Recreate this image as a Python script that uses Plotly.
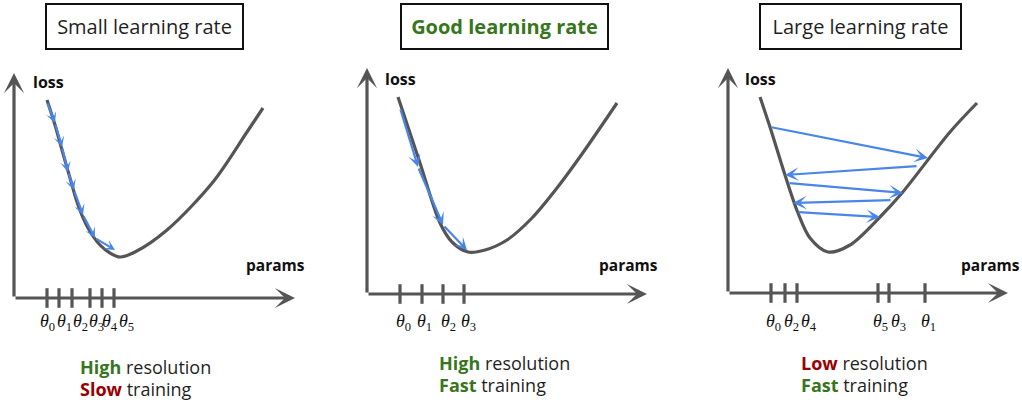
import plotly.graph_objects as go

# ---------------- data (panel-local units: params along x, loss along y) ----------------
titles = ["Small learning rate", "Good learning rate", "Large learning rate"]
title_bold = [False, True, False]

# loss curve control points per panel
curve1_x = [33, 41, 48, 56, 64, 74, 86, 96, 106, 121, 153, 199, 233, 249]
curve1_y = [198, 173, 148, 120, 93, 70, 53, 45, 41, 46, 68, 116, 166, 190]
curve2_x = [31, 53, 73, 85, 101, 118, 140, 165, 190, 215, 250]
curve2_y = [197, 131, 71, 52, 42, 44, 54, 76, 106, 140, 191]
curve3_x = [32, 42, 57, 70, 82, 100, 122, 152, 174, 222, 249]
curve3_y = [196, 166, 118, 80, 55, 41, 48, 76, 100, 161, 190]

# gradient-descent steps (successive points, arrows go from one to the next)
steps1_x = [33, 41, 48, 54, 60, 69, 81, 101]
steps1_y = [196, 175, 151, 126, 108, 83, 60, 48]
steps2_x = [33, 51, 76, 100]
steps2_y = [186, 127, 69, 44]
# large learning rate: separate (tail, head) pairs
steps3_tail_x = [42, 190, 60, 164, 69]
steps3_tail_y = [166, 127, 110, 93, 81]
steps3_head_x = [200, 57, 175, 65, 152]
steps3_head_y = [135, 118, 100, 90, 76]

# theta ticks along the params axis
ticks1 = [33, 45, 58, 76, 88, 100]
ticks2 = [33, 55, 76, 97]
ticks3 = [43, 57, 69, 150, 161, 197]
tick_labels1 = ["0", "1", "2", "3", "4", "5"]
tick_labels2 = ["0", "1", "2", "3"]
tick_labels3 = ["0", "2", "4", "5", "3", "1"]

# verdict texts
verdict_words = [("High", "resolution", "Slow", "training"),
                 ("High", "resolution", "Fast", "training"),
                 ("Low", "resolution", "Fast", "training")]
verdict_good = [(True, False), (True, True), (False, True)]

# ---------------- styles / layout geometry ----------------
W, H = 1022, 402
GRAY = "#555555"
BLUE = "#4a86e8"
GREEN = "#38761d"
RED = "#990000"
TXT = "#1f1f1f"
FONT = "Open Sans"

panels = [  # pixel bounds and origin of each small diagram
    dict(x0=0, x1=340, ox=14, oy=298, ytip=225, xtip=281,
         title_box=(45, 3, 244, 50), verdict_xy=(78, 367),
         loss_xy=(17, 216), params_xy=(230, 33), label_dy=-24,
         label_shift=[-3, 2, 5, 3, 5, 9], head=0.8),
    dict(x0=340, x1=680, ox=367, oy=294, ytip=226, xtip=280,
         title_box=(400, 3, 609, 50), verdict_xy=(437, 363),
         loss_xy=(16, 215), params_xy=(230, 29), label_dy=-28,
         label_shift=[0, -1, 2, 1], head=0.95),
    dict(x0=680, x1=1022, ox=728, oy=293, ytip=225, xtip=280,
         title_box=(759, 3, 962, 50), verdict_xy=(799, 363),
         loss_xy=(15, 214), params_xy=(231, 28), label_dy=-29,
         label_shift=[-1, 3, 9, -1, 6, 0], head=1.05),
]

curves = [(curve1_x, curve1_y), (curve2_x, curve2_y), (curve3_x, curve3_y)]
ticks = [ticks1, ticks2, ticks3]
tick_labels = [tick_labels1, tick_labels2, tick_labels3]

fig = go.Figure()
annotations = []
layout_axes = {}

for i, p in enumerate(panels):
    k = "" if i == 0 else str(i + 1)
    xa, ya = "x" + k, "y" + k
    layout_axes["xaxis" + k] = dict(domain=[p["x0"] / W, p["x1"] / W],
                                    range=[p["x0"] - p["ox"], p["x1"] - p["ox"]],
                                    visible=False, fixedrange=True, anchor=ya)
    layout_axes["yaxis" + k] = dict(domain=[0, 1], range=[p["oy"] - H, p["oy"]],
                                    visible=False, fixedrange=True, anchor=xa)

    # loss curve
    cx, cy = curves[i]
    fig.add_trace(go.Scatter(x=cx, y=cy, mode="lines", xaxis=xa, yaxis=ya,
                             line=dict(color=GRAY, width=3.2, shape="spline", smoothing=0.9),
                             hoverinfo="skip"))

    # theta ticks
    fig.add_trace(go.Scatter(x=ticks[i], y=[0] * len(ticks[i]), mode="markers",
                             xaxis=xa, yaxis=ya, hoverinfo="skip",
                             marker=dict(symbol="line-ns", size=14,
                                         line=dict(color=GRAY, width=3.2))))

    # coordinate axes with arrow heads
    for (hx, hy) in [(0, p["ytip"]), (p["xtip"], 0)]:
        annotations.append(dict(x=hx, y=hy, ax=0, ay=0, xref=xa, yref=ya,
                                axref=xa, ayref=ya, showarrow=True, text="",
                                arrowhead=3, arrowsize=1.05, arrowwidth=3.2,
                                arrowcolor=GRAY, standoff=0, startstandoff=0))

    # axis names
    annotations.append(dict(x=p["loss_xy"][0], y=p["loss_xy"][1], xref=xa, yref=ya,
                            text="<b>loss</b>", showarrow=False, xanchor="left",
                            yanchor="middle", font=dict(family=FONT, size=16, color="#111")))
    annotations.append(dict(x=p["params_xy"][0], y=p["params_xy"][1], xref=xa, yref=ya,
                            text="<b>params</b>", showarrow=False, xanchor="left",
                            yanchor="middle", font=dict(family=FONT, size=15.5, color="#111")))

    # tick labels
    for t, lab, sh in zip(ticks[i], tick_labels[i], p["label_shift"]):
        annotations.append(dict(x=t, y=0, xref=xa, yref=ya, showarrow=False,
                                text="<i>θ</i><sub>" + lab + "</sub>",
                                xanchor="center", yanchor="middle",
                                xshift=sh + 3, yshift=p["label_dy"],
                                font=dict(family="Liberation Serif", size=18, color="#111")))

    # title box
    bx0, by0, bx1, by1 = p["title_box"]
    ttl = titles[i]
    tcol = TXT
    if title_bold[i]:
        ttl = "<b>" + ttl + "</b>"
        tcol = GREEN
    annotations.append(dict(x=(bx0 + bx1) / 2 / W, y=1 - (by0 + by1) / 2 / H,
                            xref="paper", yref="paper", showarrow=False, text=ttl,
                            xanchor="center", yanchor="middle",
                            width=bx1 - bx0 - 4, height=by1 - by0 - 4,
                            bordercolor="#111", borderwidth=2, borderpad=0,
                            bgcolor="white", font=dict(family=FONT, size=20, color=tcol)))

    # verdict text
    w1, w2, w3, w4 = verdict_words[i]
    g1, g2 = verdict_good[i]
    vx, vy = p["verdict_xy"]
    for j, (wa, wb, good) in enumerate([(w1, w2, g1), (w3, w4, g2)]):
        col = GREEN if good else RED
        annotations.append(dict(x=vx / W, y=1 - (vy + 22 * j) / H, xref="paper", yref="paper",
                                showarrow=False, xanchor="left", yanchor="middle",
                                text="<b><span style='color:%s'>%s</span></b> %s" % (col, wa, wb),
                                font=dict(family=FONT, size=18, color=TXT)))

# gradient step arrows
def add_arrow(xa, ya, tx, ty, hx, hy, size):
    annotations.append(dict(x=hx, y=hy, ax=tx, ay=ty, xref=xa, yref=ya, axref=xa, ayref=ya,
                            showarrow=True, text="", arrowhead=3, arrowsize=size,
                            arrowwidth=2.2, arrowcolor=BLUE, standoff=0, startstandoff=0))

for j in range(len(steps1_x) - 1):
    add_arrow("x", "y", steps1_x[j], steps1_y[j], steps1_x[j + 1], steps1_y[j + 1], panels[0]["head"])
for j in range(len(steps2_x) - 1):
    add_arrow("x2", "y2", steps2_x[j], steps2_y[j], steps2_x[j + 1], steps2_y[j + 1], panels[1]["head"])
for tx, ty, hx, hy in zip(steps3_tail_x, steps3_tail_y, steps3_head_x, steps3_head_y):
    add_arrow("x3", "y3", tx, ty, hx, hy, panels[2]["head"])

fig.update_layout(width=W, height=H, margin=dict(l=0, r=0, t=0, b=0),
                  paper_bgcolor="white", plot_bgcolor="white", showlegend=False,
                  annotations=annotations, **layout_axes)

fig.write_html("out.html", config={"displayModeBar": False},
               post_script="document.body.style.margin='0px';document.body.style.padding='0px';")
